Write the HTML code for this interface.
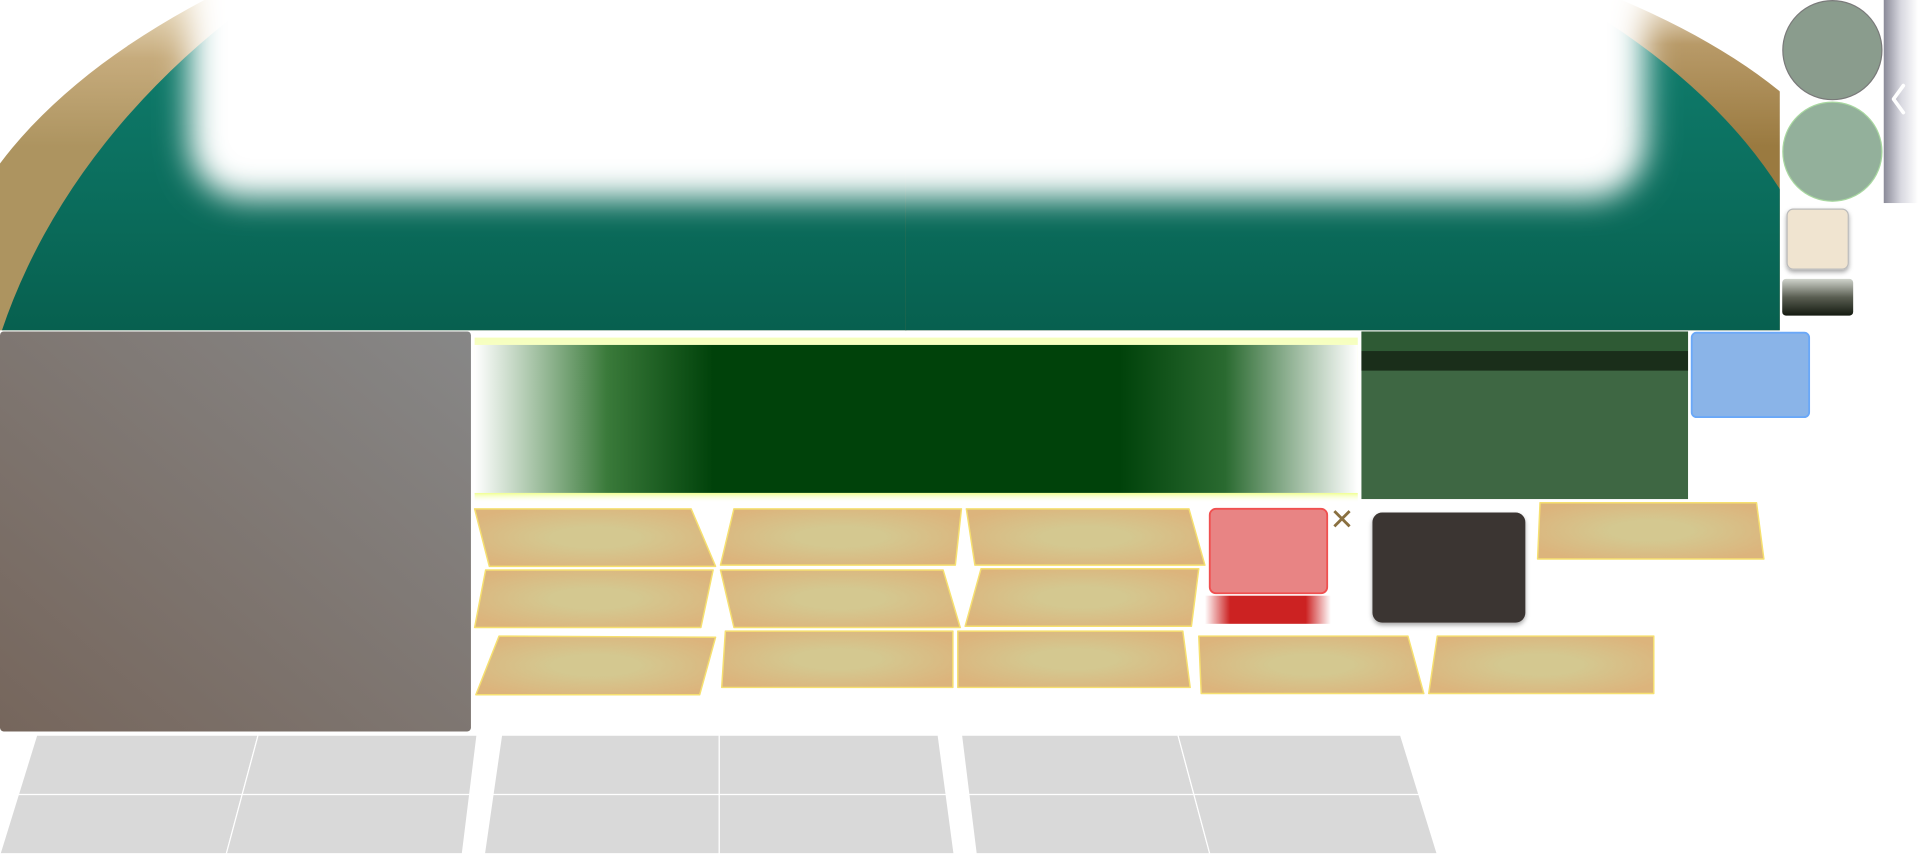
<!DOCTYPE html>
<html><head><meta charset="utf-8"><style>html,body{margin:0;padding:0;background:#fff;overflow:hidden;width:1918px;height:855px}svg{display:block;position:absolute;left:0;top:0}</style></head><body>
<svg width="1918" height="855" viewBox="0 0 1568 699" preserveAspectRatio="none" xmlns="http://www.w3.org/2000/svg">
<defs>
<clipPath id="topL"><rect x="0" y="0" width="741" height="270"/></clipPath>
<clipPath id="topR"><rect x="740" y="0" width="715" height="270"/></clipPath>
<filter id="b12" x="-20%" y="-50%" width="140%" height="200%"><feGaussianBlur stdDeviation="13"/></filter>
<filter id="sh" x="-20%" y="-20%" width="140%" height="150%"><feDropShadow dx="0" dy="2" stdDeviation="2" flood-color="#000" flood-opacity="0.35"/></filter>
<linearGradient id="goldL" x1="0" y1="0" x2="0" y2="120" gradientUnits="userSpaceOnUse"><stop offset="0" stop-color="#eadcc0"/><stop offset="0.4" stop-color="#c6ab7c"/><stop offset="1" stop-color="#ad9460"/></linearGradient>
<linearGradient id="goldR" x1="0" y1="0" x2="0" y2="120" gradientUnits="userSpaceOnUse"><stop offset="0" stop-color="#f2e8d8"/><stop offset="0.3" stop-color="#b89a68"/><stop offset="1" stop-color="#9a7a40"/></linearGradient>
<linearGradient id="teal" x1="0" y1="0" x2="0" y2="270" gradientUnits="userSpaceOnUse"><stop offset="0" stop-color="#108070"/><stop offset="1" stop-color="#07604f"/></linearGradient>
<linearGradient id="side" x1="0" y1="0" x2="1" y2="0"><stop offset="0" stop-color="#8a8a98"/><stop offset="0.5" stop-color="#d8d8e0"/><stop offset="1" stop-color="#fff"/></linearGradient>
<linearGradient id="dark" x1="0" y1="0" x2="0" y2="1"><stop offset="0" stop-color="#d0d4cc"/><stop offset="0.5" stop-color="#5a5e52"/><stop offset="1" stop-color="#141a10"/></linearGradient>
<linearGradient id="gray" x1="0" y1="1" x2="1" y2="0"><stop offset="0" stop-color="#76665c"/><stop offset="1" stop-color="#878787"/></linearGradient>
<linearGradient id="green" x1="0" y1="0" x2="1" y2="0"><stop offset="0" stop-color="#fff"/><stop offset="0.15" stop-color="#3a7a3a"/><stop offset="0.27" stop-color="#00420a"/><stop offset="0.73" stop-color="#00420a"/><stop offset="0.85" stop-color="#2a6a30"/><stop offset="1" stop-color="#fff"/></linearGradient>
<linearGradient id="glow" x1="0" y1="0" x2="0" y2="1"><stop offset="0" stop-color="#f0ff90"/><stop offset="1" stop-color="#fff" stop-opacity="0"/></linearGradient>
<radialGradient id="tan" cx="0.5" cy="0.5" r="0.6"><stop offset="0.3" stop-color="#d4c890"/><stop offset="1" stop-color="#dcb47c"/></radialGradient>
<linearGradient id="redbar" x1="0" y1="0" x2="1" y2="0"><stop offset="0" stop-color="#fff"/><stop offset="0.2" stop-color="#cc2222"/><stop offset="0.8" stop-color="#cc2222"/><stop offset="1" stop-color="#fff"/></linearGradient>
</defs>
<g clip-path="url(#topL)">
<ellipse cx="740" cy="272" rx="790" ry="395" fill="url(#goldL)"/>
<ellipse cx="740" cy="412" rx="762" ry="575" fill="url(#teal)"/>
</g>
<g clip-path="url(#topR)">
<ellipse cx="740" cy="204" rx="790" ry="304" fill="url(#goldR)"/>
<ellipse cx="740" cy="301" rx="760" ry="432" fill="url(#teal)"/>
</g>
<rect x="155" y="-60" width="1190" height="222" rx="45" fill="#fff" filter="url(#b12)"/>
<circle cx="1498" cy="41" r="40.5" fill="#8a9c8d" stroke="#7a7a7a" stroke-width="1"/>
<circle cx="1498" cy="124" r="40.5" fill="#93b09b" stroke="#a8d8a0" stroke-width="1"/>
<rect x="1540" y="0" width="28" height="166" fill="url(#side)"/>
<polyline points="1556,70 1548,81 1556,92" fill="none" stroke="#fff" stroke-width="3" stroke-linecap="round" stroke-linejoin="round"/>
<rect x="1461" y="171" width="50" height="49" rx="5" fill="#f0e4d0" stroke="#bbb" filter="url(#sh)"/>
<rect x="1457" y="228" width="58" height="30" rx="3" fill="url(#dark)"/>
<rect x="0" y="271" width="385" height="327" rx="3" fill="url(#gray)"/>
<rect x="388" y="276" width="722" height="135" fill="url(#glow)" opacity="0.6"/>
<rect x="388" y="282" width="722" height="121" fill="url(#green)"/>
<rect x="388" y="403" width="722" height="8" fill="url(#glow)"/>
<rect x="1113" y="271" width="267" height="137" fill="#3e6743"/>
<rect x="1113" y="271" width="267" height="16" fill="#2e5a34"/>
<rect x="1113" y="287" width="267" height="16" fill="#1a2e1a"/>
<rect x="1383" y="272" width="96" height="69" rx="4" fill="#8ab4e8" stroke="#6aa8f8" stroke-width="1.5"/>
<g fill="url(#tan)" stroke="#f6e070" stroke-width="1.2" stroke-linejoin="round">
<polygon points="388,416 565,416 585,463 400,463"/>
<polygon points="600,416 786,416 781,462 589,462"/>
<polygon points="790,416 972,416 985,462 797,462"/>
<polygon points="397,466 583,466 573,513 388,513"/>
<polygon points="589,466 771,466 785,513 600,513"/>
<polygon points="802,465 980,465 974,512 789,512"/>
<polygon points="408,520 585,521 572,568 389,568"/>
<polygon points="593,516 779,516 779,562 590,562"/>
<polygon points="783,516 967,516 973,562 783,562"/>
<polygon points="980,520 1151,520 1164,567 982,567"/>
<polygon points="1175,520 1352,520 1352,567 1168,567"/>
<polygon points="1259,411 1436,411 1442,457 1257,457"/>
</g>
<rect x="989" y="416" width="96" height="69" rx="5" fill="#e88484" stroke="#f05050" stroke-width="1.5"/>
<rect x="985" y="487" width="103" height="23" fill="url(#redbar)"/>
<text x="1097" y="433" font-family="Liberation Sans, sans-serif" font-size="24" fill="#8a7040" text-anchor="middle">✕</text>
<rect x="1122" y="419" width="125" height="90" rx="8" fill="#3b3431" filter="url(#sh)"/>
<g fill="#d9d9d9" stroke="#fff" stroke-width="1">
<polygon points="30,601 211,601 185,698 0,698"/>
<polygon points="211,601 390,601 378,698 185,698"/>
<polygon points="410,601 588,601 588,698 396,698"/>
<polygon points="588,601 767,601 780,698 588,698"/>
<polygon points="786,601 963,601 989,698 798,698"/>
<polygon points="963,601 1145,601 1175,698 989,698"/>
</g>
<g stroke="#fff" stroke-width="1"><line x1="0" y1="649.5" x2="1175" y2="649.5"/></g>
</svg>
</body></html>
